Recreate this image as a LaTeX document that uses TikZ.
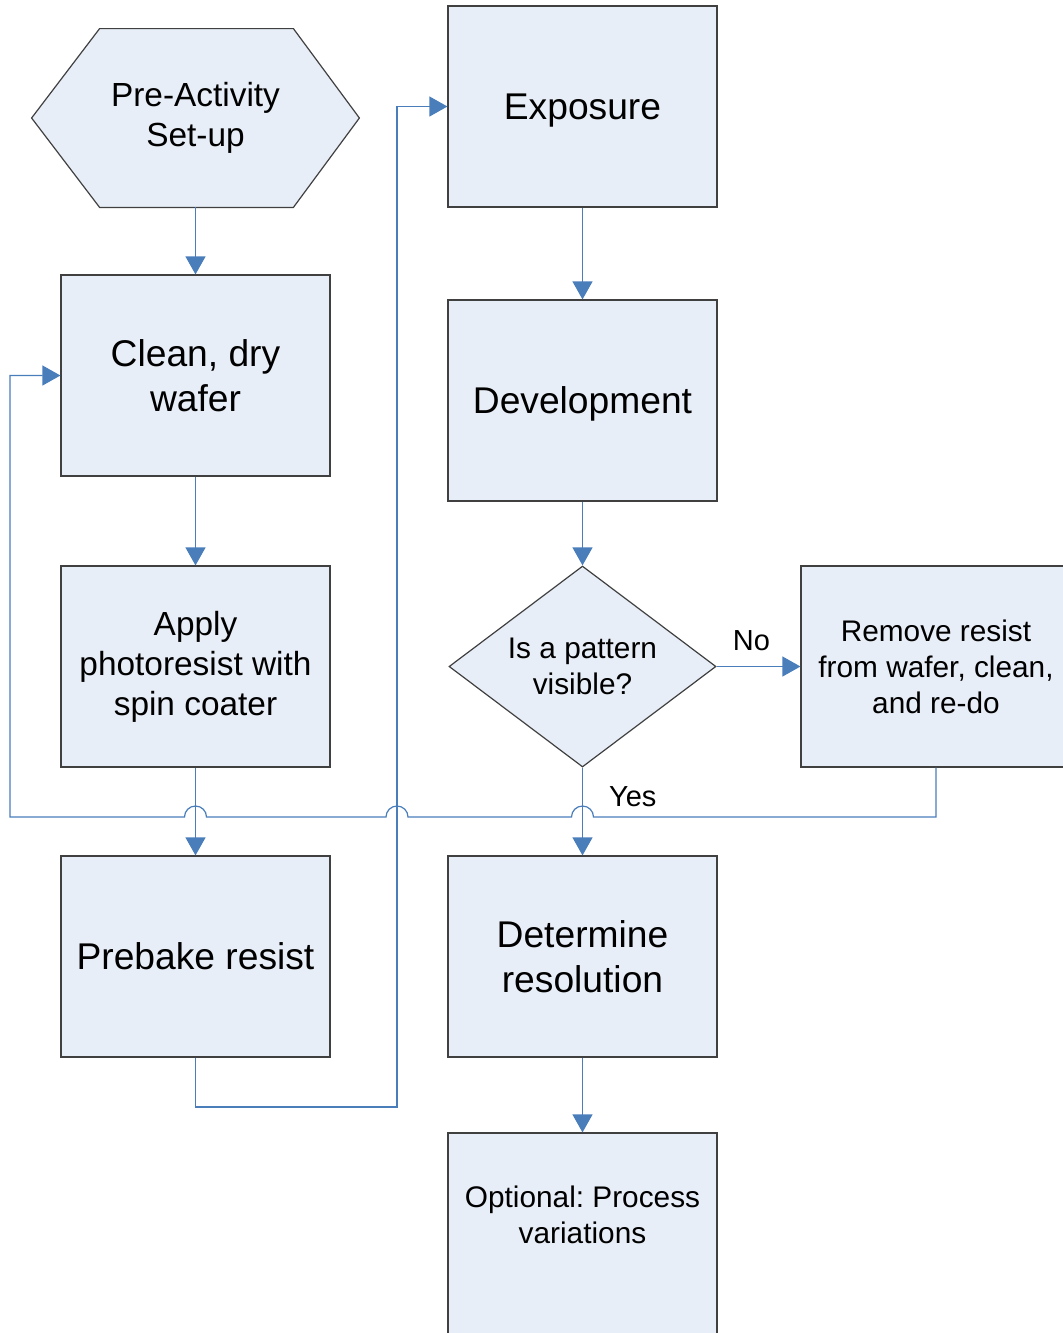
\documentclass[tikz,border=0pt]{standalone}
\usepackage{fontspec}
\setmainfont{Liberation Sans}
\usetikzlibrary{shapes,arrows,arrows.meta,positioning,backgrounds}
\definecolor{boxfill}{RGB}{232,238,247}
\definecolor{flowblue}{RGB}{74,126,187}
\definecolor{boxline}{RGB}{64,64,64}
\tikzstyle{stepbox} = [rectangle, draw=boxline, fill=boxfill, line width=0.6pt, minimum width=134.5pt, minimum height=100.5pt, align=center, inner sep=0pt]
\tikzstyle{decision} = [diamond, aspect=1.33, draw=boxline, fill=boxfill, line width=0.6pt, minimum width=133.5pt, minimum height=100.5pt, align=center, inner sep=0pt]
\tikzstyle{prepbox} = [rectangle, minimum width=163.5pt, minimum height=89pt, align=center, inner sep=0pt]
\tikzstyle{flow} = [draw=flowblue, line width=0.6pt, -{Triangle[length=9pt,width=10pt]}]
\tikzstyle{tag} = [inner sep=0pt, font=\fontsize{14.5}{17}\selectfont]
\newcommand{\fbig}{\fontsize{18.6}{22.5}\selectfont}
\newcommand{\fmid}{\fontsize{16.7}{20}\selectfont}
\newcommand{\fsmall}{\fontsize{14.9}{18}\selectfont}
\frenchspacing

\begin{document}
\begin{tikzpicture}[x=0.5pt, y=-0.5pt]
				\useasboundingbox (0,0) rectangle (1063,1333);
				\node [prepbox, font=\fmid] (prep) at (195.5, 118) {Pre-Activity\\Set-up};
				\node [stepbox, font=\fbig] (clean) at (195.5, 375.5) {Clean, dry\\wafer};
				\node [stepbox, font=\fmid] (apply) at (195.5, 666.5) {Apply\\photoresist with\\spin coater};
				\node [stepbox, font=\fbig] (prebake) at (195.5, 956.5) {Prebake resist};
				\node [stepbox, font=\fbig, text depth=0pt] (exposure) at (582.5, 106.5) {Exposure};
				\node [stepbox, font=\fbig, text depth=0pt] (develop) at (582.5, 400.5) {Development};
				\node [decision, font=\fsmall] (visible) at (582.5, 666.5) {Is a pattern\\visible?};
				\node [stepbox, font=\fsmall, minimum width=135pt] (remove) at (936, 666.5) {Remove resist\\from wafer, clean,\\and re-do};
				\node [stepbox, font=\fbig] (resolution) at (582.5, 956.5) {Determine\\resolution};
				\node [stepbox] (optional) at (582.5, 1233.5) {};
				\node [font=\fsmall, align=center] (optionaltext) at (582.5, 1215) {Optional: Process\\variations};
				\coordinate (bus) at (10, 817);
				\coordinate (riser) at (397, 1107);

				% hexagon outline behind its text
				\begin{scope}[on background layer]
					\filldraw [draw=boxline, fill=boxfill, line width=0.6pt] ([xshift=34pt]prep.north west) -- ([xshift=-33pt]prep.north east) -- (prep.east) -- ([xshift=-33pt]prep.south east) -- ([xshift=34pt]prep.south west) -- (prep.west) -- cycle;
				\end{scope}

				\path [flow] (prep.south) -- (clean.north);
				\path [flow] (clean.south) -- (apply.north);
				\path [flow] (apply.south) -- (prebake.north);
				\path [flow] (prebake.south) |- (riser) |- (exposure.west);
				\path [flow] (exposure.south) -- (develop.north);
				\path [flow] (develop.south) -- (visible.north);
				\path [flow] (visible.east) -- node [tag, xshift=-3.5pt, yshift=13pt] {No} (remove.west);
				\path [flow] (visible.south) -- node [tag, pos=0.33, anchor=west, xshift=13pt] {Yes} (resolution.north);
				\path [flow] (resolution.south) -- (optional.north);
				% return loop, hopping over the crossed lines
				\path [flow] (remove.south) |- ([xshift=5.5pt]resolution.north |- bus)
					arc [start angle=0, end angle=180, radius=5.5pt]
					-- ([xshift=5.5pt]riser |- bus)
					arc [start angle=0, end angle=180, radius=5.5pt]
					-- ([xshift=5.5pt]prebake.north |- bus)
					arc [start angle=0, end angle=180, radius=5.5pt]
					-- (bus) |- (clean.west);
			\end{tikzpicture}
\end{document}
